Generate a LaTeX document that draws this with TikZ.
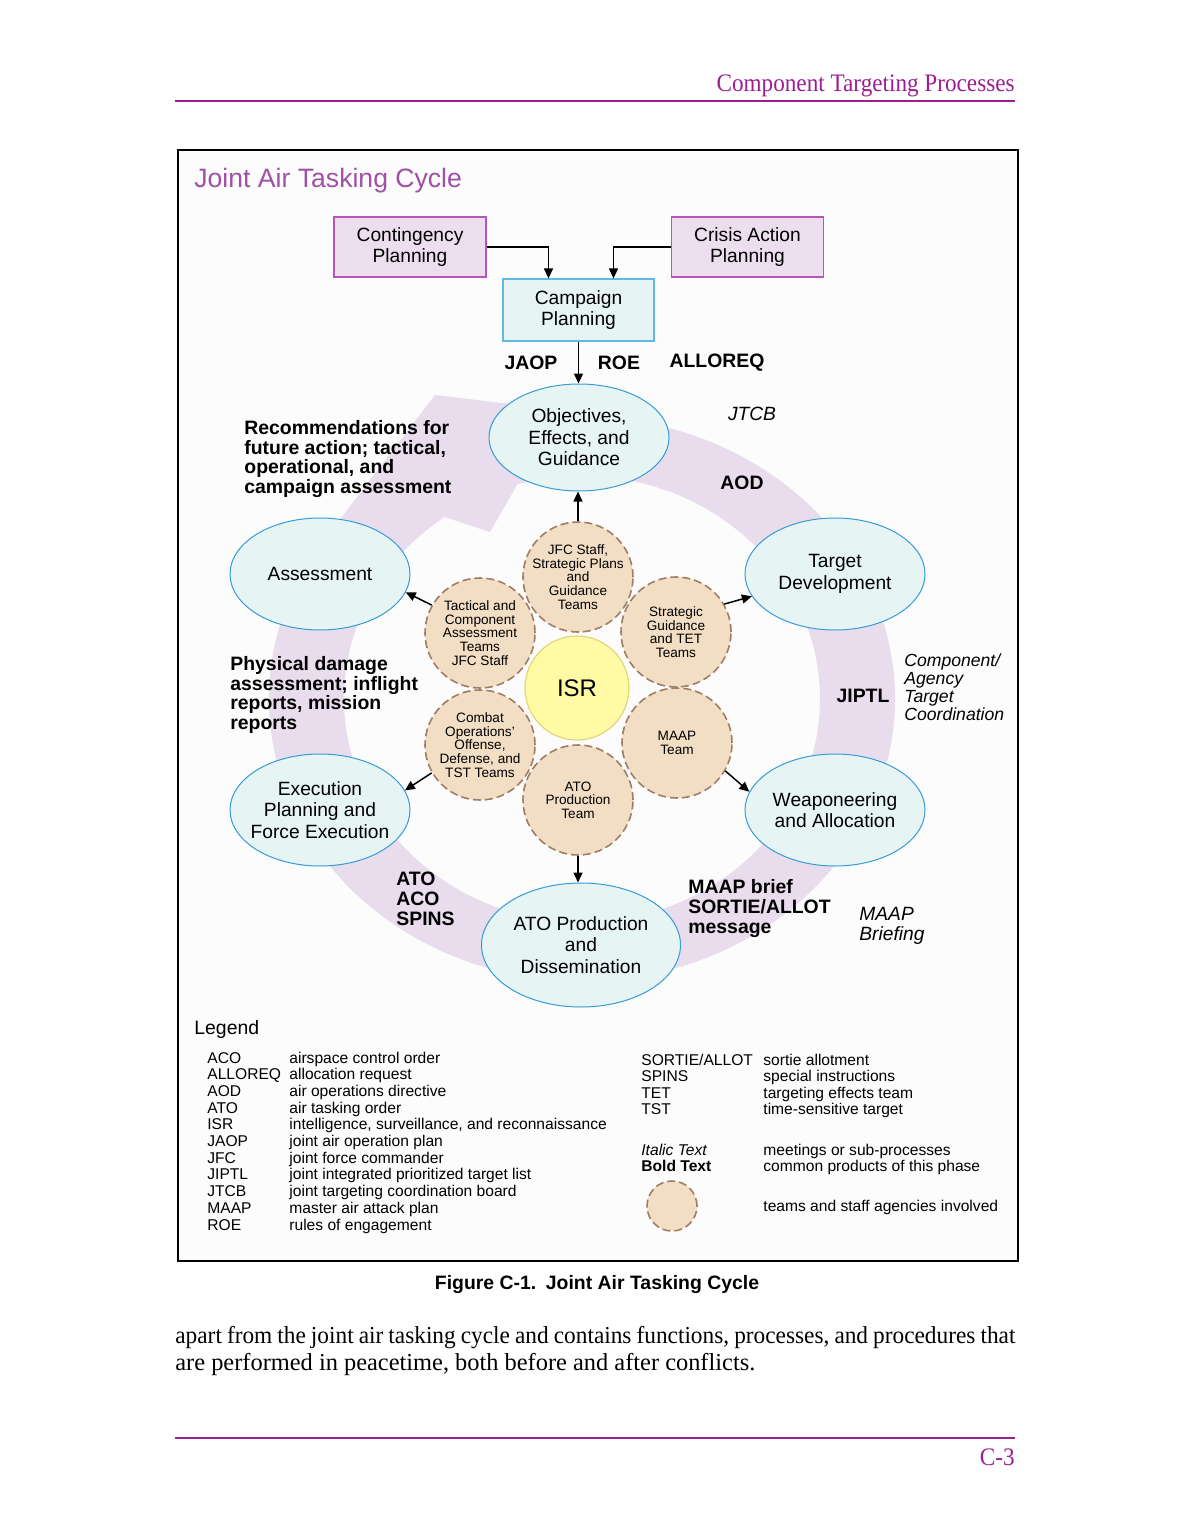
\documentclass[tikz,border=0pt]{standalone}
\usepackage{fontspec}
\setmainfont{Liberation Serif}
\setsansfont{Liberation Sans}
\newfontfamily\pageserif[FakeStretch=0.92]{Liberation Serif}
\newfontfamily\tightserif[FakeStretch=0.955]{Liberation Serif}
\usepackage{xcolor}
\usepackage{tikz}
\usetikzlibrary{arrows.meta, shapes.geometric, calc}

\definecolor{hdrpurple}{RGB}{155,30,145}
\definecolor{titlepurple}{RGB}{160,80,165}
\definecolor{bandlilac}{RGB}{232,220,237}
\definecolor{ellfill}{RGB}{230,244,243}
\definecolor{elldraw}{RGB}{55,155,215}
\definecolor{campdraw}{RGB}{95,185,225}
\definecolor{boxfill}{RGB}{236,222,238}
\definecolor{boxdraw}{RGB}{185,85,185}
\definecolor{teamfill}{RGB}{242,222,196}
\definecolor{teamdraw}{RGB}{160,125,100}
\definecolor{isrfill}{RGB}{255,250,165}
\definecolor{isrdraw}{RGB}{225,215,120}
\definecolor{framefill}{RGB}{252,252,252}

\begin{document}
\begin{tikzpicture}[
    x=0.5pt, y=-0.5pt,
    planbox/.style={rectangle, draw=boxdraw, fill=boxfill, line width=0.6pt, minimum width=76pt, minimum height=30pt, align=center, font=\sffamily\fontsize{9.6}{10.8}\selectfont},
    campbox/.style={planbox, draw=campdraw, fill=ellfill, minimum width=75.5pt, minimum height=31pt},
    phase/.style={ellipse, draw=elldraw, fill=ellfill, line width=0.5pt, minimum width=90pt, minimum height=56pt, inner sep=0pt, align=center, font=\sffamily\fontsize{9.6}{10.8}\selectfont},
    team/.style={circle, draw=teamdraw, fill=teamfill, line width=0.8pt, dash pattern=on 4pt off 2pt, minimum size=55pt, inner sep=-4pt, align=center, font=\sffamily\fontsize{6.8}{6.8}\selectfont},
    isr/.style={circle, draw=isrdraw, fill=isrfill, line width=0.6pt, minimum size=52pt, font=\sffamily\fontsize{12}{12}\selectfont},
    prod/.style={anchor=north west, align=left, inner sep=0pt, font=\sffamily\bfseries\fontsize{9.7}{9.85}\selectfont},
    meet/.style={anchor=north west, align=left, inner sep=0pt, font=\sffamily\itshape\fontsize{9.6}{10}\selectfont},
    arr/.style={-{Triangle[length=5pt, width=4.5pt]}, line width=0.75pt},
    legtext/.style={anchor=base west, inner sep=0pt, font=\sffamily\fontsize{7.8}{8}\selectfont}
]
\useasboundingbox[fill=white] (0,0) rectangle (1190,1540);

% page header and footer
\node[anchor=base east, inner sep=0pt, text=hdrpurple, font=\pageserif\fontsize{12.6}{14}\selectfont] (header) at (1015,92) {Component Targeting Processes};
\draw[hdrpurple, line width=1.25pt] (175,101) -- (1015,101);
\draw[hdrpurple, line width=1.25pt] (175,1438) -- (1015,1438);
\node[anchor=base east, inner sep=0pt, text=hdrpurple, font=\pageserif\fontsize{12.6}{14}\selectfont] (pageno) at (1015,1465) {C-3};

% figure frame
\draw[line width=1pt, fill=framefill] (178,150) rectangle (1018,1261);
\node[anchor=base west, inner sep=0pt, text=titlepurple, font=\sffamily\fontsize{13.3}{15}\selectfont] (title) at (194,188) {Joint Air Tasking Cycle};

% cycle band
\fill[bandlilac, even odd rule] (582,699) ellipse [x radius=313, y radius=282] (582,699) ellipse [x radius=238, y radius=223];
\fill[bandlilac] (338,522) -- (435,395) -- (560,410) -- (490,532) -- (445,517) -- cycle;

% planning boxes
\node[planbox] (cont) at (410,247) {Contingency\\Planning};
\node[planbox] (crisis) at (747.5,247) {Crisis Action\\Planning};
\node[campbox] (camp) at (578.5,310) {Campaign\\Planning};

% phases
\node[phase, minimum height=53.5pt] (obj) at (579,437.5) {Objectives,\\Effects, and\\Guidance};
\node[phase] (tgt) at (835,574) {Target\\Development};
\node[phase] (weap) at (835,810) {Weaponeering\\and Allocation};
\node[phase, minimum width=99.5pt, minimum height=62pt] (ato) at (581,945) {ATO Production\\and\\Dissemination};
\node[phase, inner sep=-5pt] (exec) at (320,810) {Execution\\Planning and\\Force Execution};
\node[phase] (assess) at (320,574) {Assessment};

% teams round ISR
\node[isr] (isr) at (577,688) {ISR};
\node[team] (ttop) at (578,577) {JFC Staff,\\Strategic Plans\\and\\Guidance\\Teams};
\node[team] (tur) at (676,632) {Strategic\\Guidance\\and TET\\Teams};
\node[team] (tlr) at (677,743) {MAAP\\Team};
\node[team] (tbot) at (578,800) {ATO\\Production\\Team};
\node[team] (tll) at (480,745) {Combat\\Operations’\\Offense,\\Defense, and\\TST Teams};
\node[team] (tul) at (480,633) {Tactical and\\Component\\Assessment\\Teams\\JFC Staff};

% arrows
\draw[arr] (cont.east) -| ($(camp.north)+(-30,0)$);
\draw[arr] (crisis.west) -| ($(camp.north)+(35,0)$);
\draw[arr] (camp.south) -- (camp.south |- obj.north);
\draw[arr] (ttop.north) -- (ttop.north |- obj.south);
\draw[arr] (tur.30) -- (tgt.195);
\draw[arr] (tlr.-30) -- (weap.168);
\draw[arr] (tbot.south) -- (tbot.south |- ato.north);
\draw[arr] (tll.210) -- (exec.13);
\draw[arr] (tul.150) -- (assess.-12);

% products and meetings
\node[prod, anchor=base] (jaop) at (531,369) {JAOP};
\node[prod, anchor=base] (roe) at (619,369) {ROE};
\node[prod, anchor=base] (alloreq) at (717,367) {ALLOREQ};
\node[meet, anchor=base] (jtcb) at (752,420) {JTCB};
\node[prod, anchor=base] (aod) at (742,489) {AOD};
\node[prod] (recomm) at (244,420) {Recommendations for\\future action; tactical,\\operational, and\\campaign assessment};
\node[prod] (pda) at (230,656) {Physical damage\\assessment; inflight\\reports, mission\\reports};
\node[prod, anchor=base] (jiptl) at (863,702) {JIPTL};
\node[meet, font=\sffamily\itshape\fontsize{8.8}{9}\selectfont] (coord) at (904,653) {Component/\\Agency\\Target\\Coordination};
\node[prod] (atoprod) at (396,872) {ATO\\ACO\\SPINS};
\node[prod, font=\sffamily\bfseries\fontsize{9.7}{10}\selectfont] (maapprod) at (688,879) {MAAP brief\\SORTIE/ALLOT\\message};
\node[meet] (maapmeet) at (859,907) {MAAP\\Briefing};

% legend
\node[anchor=base west, inner sep=0pt, font=\sffamily\fontsize{9.7}{11}\selectfont] (legend) at (194,1034) {Legend};
\foreach \ab/\de [count=\i from 0] in {ACO/airspace control order, ALLOREQ/allocation request, AOD/air operations directive, ATO/air tasking order, ISR/{intelligence, surveillance, and reconnaissance}, JAOP/joint air operation plan, JFC/joint force commander, JIPTL/joint integrated prioritized target list, JTCB/joint targeting coordination board, MAAP/master air attack plan, ROE/rules of engagement}{
    \node[legtext] (ab\i) at (207,1063+16.7*\i) {\ab};
    \node[legtext] (de\i) at (289,1063+16.7*\i) {\de};
}
\node[legtext] (sortie) at (641,1065) {SORTIE/ALLOT};
\node[legtext] (sortiede) at (763,1065) {sortie allotment};
\node[legtext] (spins) at (641,1081.5) {SPINS};
\node[legtext] (spinsde) at (763,1081.5) {special instructions};
\node[legtext] (tet) at (641,1098) {TET};
\node[legtext] (tetde) at (763,1098) {targeting effects team};
\node[legtext] (tst) at (641,1114.5) {TST};
\node[legtext] (tstde) at (763,1114.5) {time-sensitive target};
\node[legtext, font=\sffamily\itshape\fontsize{7.8}{8}\selectfont] (italic) at (641,1155) {Italic Text};
\node[legtext] (italicde) at (763,1155) {meetings or sub-processes};
\node[legtext, font=\sffamily\bfseries\fontsize{7.8}{8}\selectfont] (bold) at (641,1171) {Bold Text};
\node[legtext] (boldde) at (763,1171) {common products of this phase};
\node[team, minimum size=25pt] (legteam) at (672,1206) {};
\node[legtext] (legteamde) at (763,1211) {teams and staff agencies involved};

% caption and body text
\node[anchor=base, inner sep=0pt, font=\sffamily\bfseries\fontsize{9.7}{11}\selectfont] (caption) at (597,1289) {Figure C-1.\enspace Joint Air Tasking Cycle};
\node[anchor=base west, inner sep=0pt, font=\tightserif\fontsize{12.2}{13.5}\selectfont] (body1) at (175,1343) {\spaceskip=2.5pt plus 2pt minus 0.3pt\makebox[420pt][s]{apart from the joint air tasking cycle and contains functions, processes, and procedures that}};
\node[anchor=base west, inner sep=0pt, font=\rmfamily\fontsize{12.2}{13.5}\selectfont] (body2) at (175,1370) {are performed in peacetime, both before and after conflicts.};

\end{tikzpicture}
\end{document}
